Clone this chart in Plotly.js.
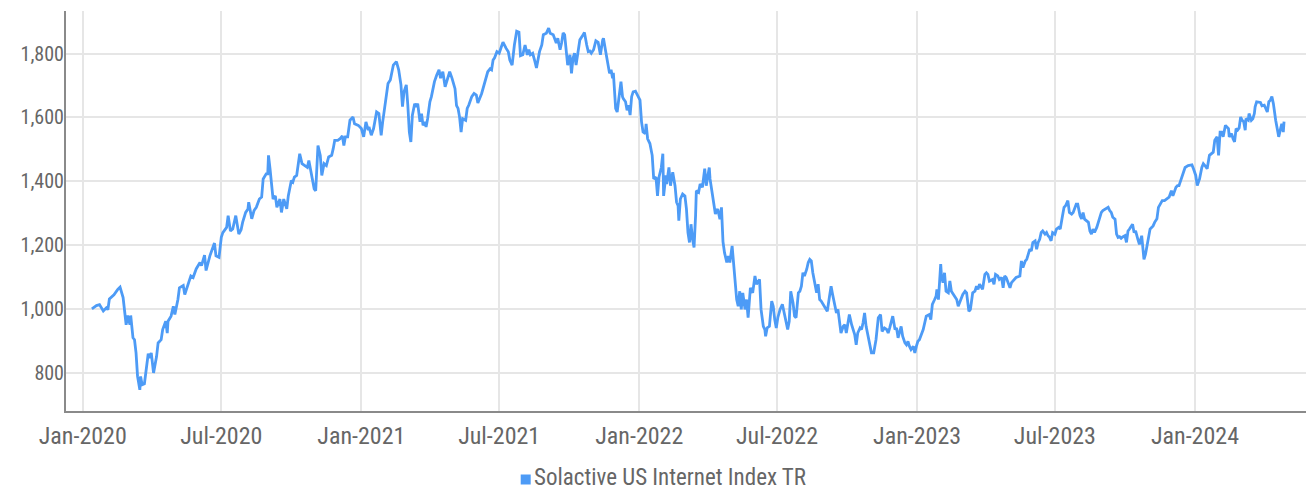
<!DOCTYPE html>
<html><head><meta charset="utf-8">
<script src="https://cdn.plot.ly/plotly-3.0.1.min.js"></script>
<style>html,body{margin:0;padding:0;background:#fff;}#chart{width:1306px;height:493px;}</style>
</head><body><div id="chart"></div>
<script>
const seriesName = 'Solactive US Internet Index TR';
const yTicks = [800, 1000, 1200, 1400, 1600, 1800];

// ---- 2020 ----
const dates2020 = [
 '01-13','01-19','01-23','01-28',
 '02-01','02-03','02-05','02-11','02-16','02-19','02-23','02-25','02-27','02-29',
 '03-03','03-04','03-07','03-09','03-11','03-13','03-16','03-17','03-19','03-22','03-25','03-27','03-29','03-31',
 '04-03','04-07','04-09','04-13','04-15','04-19','04-21','04-22','04-26','04-29',
 '05-01','05-05','05-07','05-12','05-14','05-18','05-22','05-25','05-29',
 '06-03','06-05','06-09','06-11','06-16','06-19','06-22','06-24','06-28',
 '07-01','07-03','07-08','07-10','07-13','07-16','07-20','07-24','07-27','07-29',
 '08-02','08-05','08-06','08-10','08-13','08-16','08-20','08-23','08-25','08-29','08-31',
 '09-01','09-03','09-05','09-07','09-10','09-12','09-16','09-18','09-21','09-25','09-27','09-29',
 '10-01','10-03','10-05','10-08','10-10','10-12','10-15','10-19','10-22','10-24','10-26','10-29','10-31',
 '11-02','11-05','11-08','11-10','11-13','11-16','11-19','11-23','11-25','11-27',
 '12-01','12-04','12-07','12-09','12-11','12-14','12-17','12-21','12-23','12-28'];
const values2020 = [
 1000,1010,1013,993,
 1003,997,1031,1044,1061,1068,1035,998,950,979,
 950,979,909,903,862,788,746,788,762,765,819,859,846,862,
 799,851,893,903,935,961,924,961,977,1008,
 982,1029,1066,1073,1045,1077,1103,1098,1125,
 1145,1135,1168,1120,1166,1187,1206,1166,1161,
 1224,1239,1255,1292,1244,1250,1292,1234,1248,1271,
 1302,1313,1334,1282,1308,1318,1344,1350,1407,1423,1423,
 1481,1439,1376,1344,1354,1318,1344,1302,1344,1313,1354,1376,
 1402,1397,1413,1418,1449,1486,1455,1449,1443,1465,1439,1402,1376,
 1370,1512,1481,1418,1455,1449,1476,1481,1502,1528,
 1528,1533,1542,1512,1539,1539,1591,1601,1580,1575];

// ---- 2021 ----
const dates2021 = [
 '01-01','01-04','01-07','01-10','01-11','01-14','01-17','01-21','01-24','01-27','01-29',
 '02-01','02-05','02-08','02-12','02-16','02-19','02-22','02-24','02-26',
 '03-01','03-03','03-05','03-07','03-09','03-12','03-14','03-16','03-19','03-21','03-23','03-25','03-27','03-29',
 '04-01','04-03','04-07','04-10','04-13','04-15','04-18','04-21','04-25','04-27','04-30',
 '05-04','05-06','05-08','05-10','05-12','05-14','05-18','05-20','05-22','05-26','05-29',
 '06-01','06-03','06-08','06-11','06-14','06-16','06-19','06-21','06-23','06-25','06-28',
 '07-01','07-04','07-06','07-10','07-13','07-15','07-18','07-21','07-24','07-27','07-29',
 '08-01','08-04','08-07','08-09','08-11','08-14','08-17','08-19','08-23','08-26','08-28',
 '09-01','09-04','09-06','09-10','09-12','09-14','09-16','09-19','09-21','09-23','09-25','09-27','09-29',
 '10-02','10-04','10-06','10-08','10-10','10-13','10-15','10-18','10-21','10-24','10-26','10-28','10-30',
 '11-02','11-05','11-08','11-11','11-14','11-15','11-18','11-21','11-23','11-25','11-27','11-28',
 '12-01','12-03','12-05','12-08','12-10','12-11','12-14','12-16','12-18','12-20','12-22','12-24','12-27','12-30'];
const values2021 = [
 1565,1539,1586,1560,1570,1544,1565,1617,1612,1544,1586,
 1643,1706,1717,1764,1775,1749,1702,1634,1680,
 1702,1638,1554,1523,1607,1643,1633,1643,1586,1612,1575,1586,1570,1596,
 1649,1665,1712,1733,1749,1723,1743,1696,1728,1743,1723,
 1690,1637,1628,1601,1554,1596,1591,1628,1638,1665,1675,
 1670,1645,1675,1702,1723,1743,1752,1749,1780,1787,1806,
 1801,1822,1836,1817,1806,1780,1764,1827,1870,1867,1793,
 1796,1827,1796,1812,1796,1801,1775,1755,1806,1827,1859,
 1864,1880,1864,1859,1843,1833,1848,1812,1833,1865,1859,1817,1764,
 1796,1738,1785,1801,1764,1806,1843,1854,1866,1827,1806,1808,1801,
 1812,1840,1835,1796,1843,1848,1806,1760,1738,1749,1723,1740,
 1628,1617,1649,1712,1665,1659,1649,1622,1638,1607,1665,1680,1682,1665];

// ---- 2022 ----
const dates2022 = [
 '01-02','01-04','01-06','01-09','01-10','01-12','01-15','01-18','01-20','01-23','01-25','01-27','01-30',
 '02-01','02-02','02-05','02-06','02-09','02-11','02-14','02-17','02-19','02-21','02-22','02-24','02-27',
 '03-02','03-04','03-06','03-08','03-10','03-12','03-14','03-16','03-17','03-20','03-22','03-25','03-28','03-30',
 '04-03','04-04','04-07','04-09','04-11','04-14','04-17','04-19','04-21','04-23','04-26','04-28','04-30',
 '05-03','05-06','05-09','05-11','05-13','05-15','05-17','05-20','05-22','05-24','05-27','05-30',
 '06-02','06-04','06-06','06-08','06-10','06-13','06-15','06-16','06-18','06-21','06-24','06-26','06-28','06-30',
 '07-02','07-05','07-08','07-11','07-13','07-15','07-17','07-19','07-22','07-24','07-26','07-29','07-31',
 '08-02','08-04','08-06','08-09','08-11','08-13','08-15','08-17','08-19','08-22','08-24','08-26','08-28',
 '09-02','09-05','09-08','09-10','09-12','09-15','09-17','09-19','09-21','09-23','09-26','09-28','09-30',
 '10-02','10-04','10-07','10-09','10-11','10-13','10-15','10-18','10-20','10-22','10-24','10-26','10-28','10-31',
 '11-02','11-05','11-08','11-11','11-14','11-16','11-19','11-22','11-24','11-26','11-30',
 '12-03','12-05','12-07','12-11','12-13','12-16','12-18','12-20','12-22','12-24','12-27','12-29','12-31'];
const values2022 = [
 1654,1586,1554,1549,1580,1533,1518,1481,1407,1413,1354,1413,1443,
 1486,1354,1418,1391,1443,1386,1428,1386,1334,1323,1276,1344,1360,
 1354,1313,1239,1208,1265,1218,1192,1292,1370,1365,1391,1381,1439,1386,
 1443,1407,1354,1323,1297,1313,1281,1318,1210,1176,1145,1165,1145,
 1197,1100,1029,1008,1055,998,1050,998,1029,972,1066,1050,
 1103,1077,1087,1092,998,945,935,914,940,945,1024,1008,966,940,
 972,998,1014,977,956,935,961,1055,1019,977,972,1050,1055,
 1071,1113,1103,1124,1145,1155,1150,1113,1087,1050,1077,1029,1024,
 1003,992,1040,1071,1045,1003,987,998,956,924,945,950,924,
 956,982,950,935,919,887,924,940,935,956,987,945,924,882,
 862,862,903,972,982,929,940,935,924,940,977,
 935,940,909,945,914,893,887,898,882,872,882,862,882];

// ---- 2023 ----
const dates2023 = [
 '01-02','01-04','01-07','01-09','01-13','01-17','01-19','01-21','01-24','01-26','01-27','01-29',
 '02-01','02-02','02-04','02-06','02-08','02-11','02-13','02-15','02-19','02-22','02-24','02-26','02-28',
 '03-02','03-05','03-07','03-10','03-12','03-15','03-18','03-20','03-22','03-24','03-28','03-31',
 '04-02','04-04','04-06','04-10','04-12','04-14','04-17','04-19','04-22','04-24','04-26','04-28','04-30',
 '05-03','05-05','05-07','05-11','05-16','05-18','05-20','05-23','05-25','05-27','05-29','05-31',
 '06-02','06-05','06-07','06-09','06-11','06-13','06-15','06-18','06-20','06-22','06-24','06-26','06-28',
 '07-01','07-03','07-06','07-08','07-11','07-13','07-15','07-16','07-18','07-20','07-23','07-25','07-27','07-29','07-31',
 '08-03','08-05','08-07','08-09','08-11','08-14','08-16','08-18','08-20','08-22','08-25','08-27','08-29','08-31',
 '09-02','09-05','09-09','09-11','09-13','09-15','09-18','09-20','09-22','09-24','09-26','09-28',
 '10-01','10-03','10-05','10-07','10-11','10-13','10-15','10-18','10-20','10-23','10-26','10-28','10-31',
 '11-03','11-05','11-07','11-09','11-12','11-14','11-16','11-19','11-22','11-25','11-28',
 '12-01','12-03','12-07','12-09','12-11','12-14','12-17','12-19','12-23','12-28','12-30'];
const values2023 = [
 898,903,924,935,977,982,966,1014,1029,1040,1061,1029,
 1140,1103,1082,1113,1055,1050,1087,1055,1040,1029,1008,1019,1029,
 1045,1055,1050,992,998,1050,1055,1071,1061,1077,1061,1108,
 1113,1108,1087,1092,1077,1108,1103,1092,1098,1066,1103,1098,1087,
 1066,1082,1087,1098,1103,1150,1129,1150,1155,1176,1187,1181,
 1208,1213,1187,1208,1218,1239,1244,1234,1239,1229,1224,1213,1239,
 1234,1250,1255,1250,1292,1318,1323,1328,1339,1302,1297,1302,1313,1328,1328,
 1292,1282,1302,1281,1276,1271,1244,1234,1250,1239,1255,1271,1292,1302,
 1308,1313,1318,1308,1302,1287,1281,1234,1224,1226,1221,1225,
 1229,1208,1244,1250,1265,1239,1244,1218,1202,1229,1155,1171,1208,
 1250,1255,1260,1271,1282,1318,1328,1339,1339,1344,1350,
 1370,1354,1381,1386,1386,1407,1423,1443,1449,1451,1439];

// ---- 2024 ----
const dates2024 = [
 '01-02','01-04','01-07','01-10','01-12','01-14','01-17','01-20','01-23','01-25','01-27','01-30',
 '02-01','02-03','02-05','02-07','02-10','02-12','02-14','02-15','02-18','02-20','02-22','02-24','02-26','02-28',
 '03-01','03-03','03-05','03-07','03-08','03-11','03-12','03-15','03-17','03-19','03-20','03-22','03-25','03-27','03-29',
 '04-01','04-03','04-05','04-07','04-09','04-11','04-13','04-16','04-18','04-20','04-22','04-24','04-26','04-27'];
const values2024 = [
 1418,1386,1407,1443,1455,1449,1439,1481,1486,1491,1528,1539,
 1481,1554,1554,1539,1575,1570,1565,1539,1549,1533,1523,1565,1560,1567,
 1601,1591,1586,1560,1596,1591,1612,1591,1596,1612,1633,1649,1649,1647,1636,
 1638,1628,1617,1649,1654,1665,1643,1591,1570,1539,1560,1580,1554,1587];

const years = [
  ['2020', dates2020, values2020],
  ['2021', dates2021, values2021],
  ['2022', dates2022, values2022],
  ['2023', dates2023, values2023],
  ['2024', dates2024, values2024]
];
const xs = [], ys = [];
years.forEach(([yr, ds, vs]) => {
  ds.forEach((d, i) => { xs.push(yr + '-' + d); ys.push(vs[i]); });
});

const W = 1306, H = 493;
const M = {l: 66, r: 0, t: 11, b: 82};
const pw = W - M.l - M.r, ph = H - M.t - M.b;
const pxX = p => (p - M.l) / pw;
const pxY = p => (H - M.b - p) / ph;
const FONT = "'Liberation Sans Narrow', 'Roboto Condensed', 'DejaVu Sans Condensed', Roboto, sans-serif";
const LINE = '#4d9bf6';
const TXT = '#666666';

const trace = {
  type: 'scatter', mode: 'lines', x: xs, y: ys, name: seriesName,
  line: {color: LINE, width: 2.8}, showlegend: false, hoverinfo: 'skip'
};

const layout = {
  width: W, height: H, margin: {l: M.l, r: M.r, t: M.t, b: M.b, pad: 0},
  paper_bgcolor: '#ffffff', plot_bgcolor: '#ffffff',
  font: {family: FONT, size: 22, color: TXT},
  showlegend: false,
  xaxis: {
    type: 'date', range: ['2019-12-10', '2024-05-25 20:00'],
    tick0: '2020-01-01', dtick: 'M6', tickformat: '%b-%Y',
    tickfont: {family: FONT, size: 24, color: TXT}, ticklabelstandoff: 2,
    showgrid: true, gridcolor: '#e6e6e6', gridwidth: 2,
    showline: true, linecolor: '#8a8a8a', linewidth: 2,
    ticks: '', zeroline: false, fixedrange: true
  },
  yaxis: {
    range: [679.6, 1933.5], tickvals: yTicks, tickformat: ',d',
    tickfont: {family: FONT, size: 20, color: TXT}, ticklabelstandoff: -4,
    showgrid: true, gridcolor: '#e6e6e6', gridwidth: 2,
    showline: true, linecolor: '#8a8a8a', linewidth: 2,
    ticks: '', zeroline: false, fixedrange: true
  },
  shapes: [{
    type: 'rect', xref: 'paper', yref: 'paper',
    x0: pxX(520.7), x1: pxX(530.7), y0: pxY(484.5), y1: pxY(474.5),
    fillcolor: LINE, line: {width: 0}
  }],
  annotations: [{
    xref: 'paper', yref: 'paper', x: pxX(533), y: pxY(477.5),
    xanchor: 'left', yanchor: 'middle', text: seriesName, showarrow: false,
    borderpad: 0,
    font: {family: FONT, size: 23, color: TXT}
  }]
};

Plotly.newPlot('chart', [trace], layout, {staticPlot: true, displayModeBar: false});
</script>
</body></html>
